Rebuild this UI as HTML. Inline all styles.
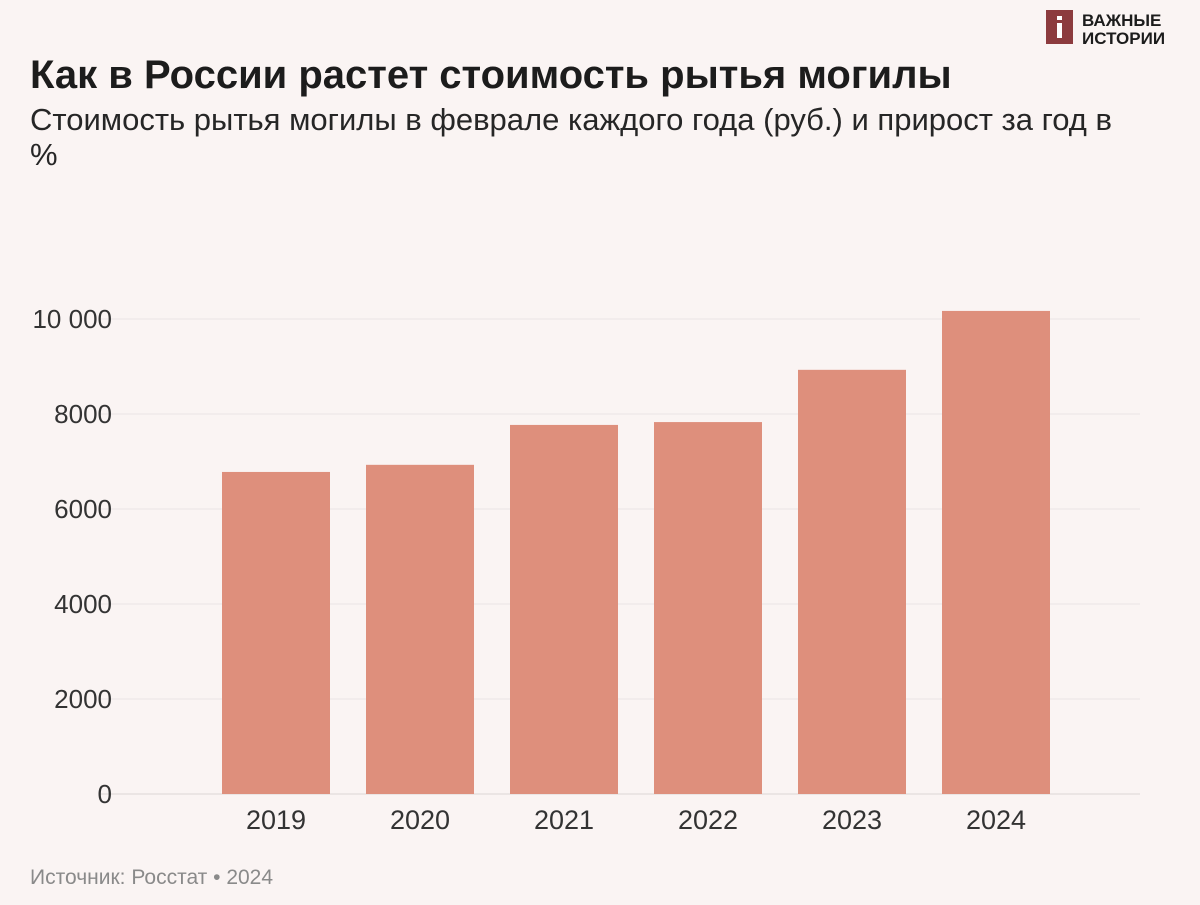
<!DOCTYPE html>
<html><head><meta charset="utf-8">
<style>
body{margin:0;background:#faf4f3;width:1200px;height:905px;overflow:hidden;font-family:"Liberation Sans",sans-serif;position:relative}
.t{position:absolute;left:30px;top:53px;font-size:40px;font-weight:bold;color:#1c1c1c;margin:0}
.s{position:absolute;left:30px;top:102px;width:1160px;font-size:31px;line-height:35px;color:#262626;margin:0}
.src{position:absolute;left:30px;top:866px;font-size:21px;color:#8a8a8a}
.logo{position:absolute;left:1046px;top:8px}
</style></head><body>
<h1 class="t">Как в России растет стоимость рытья могилы</h1>
<p class="s">Стоимость рытья могилы в феврале каждого года (руб.) и прирост за год в<br>%</p>
<div class="logo">
<svg width="154" height="40"><rect x="0" y="2" width="27" height="34" fill="#8c3b3e"/><rect x="11" y="8" width="5" height="4" fill="#fff"/><rect x="11" y="15" width="5" height="15" fill="#fff"/>
<text x="36" y="18" font-family="Liberation Sans" font-weight="bold" font-size="17" fill="#1c1c1c">ВАЖНЫЕ</text>
<text x="36" y="36" font-family="Liberation Sans" font-weight="bold" font-size="17" fill="#1c1c1c">ИСТОРИИ</text></svg></div>
<svg id="c" width="1200" height="905" style="position:absolute;left:0;top:0"></svg>
<div class="src">Источник: Росстат • 2024</div>
<script>
const categories=["2019","2020","2021","2022","2023","2024"];
const values=[6780,6930,7770,7830,8930,10170];
const ticks=[0,2000,4000,6000,8000,10000];
const tickLabels=["0","2000","4000","6000","8000","10 000"];
const svg=document.getElementById('c');const NS="http://www.w3.org/2000/svg";
const y=v=>794-v*0.0475;const x=i=>222+i*144;
ticks.forEach((t,i)=>{
const l=document.createElementNS(NS,'line');


l.setAttribute('x1',100);l.setAttribute('x2',1140);l.setAttribute('y1',y(t));l.setAttribute('y2',y(t));
l.setAttribute('stroke',t===0?'#dcd6d5':'#ebe5e4');l.setAttribute('stroke-width',1);svg.appendChild(l);
const tx=document.createElementNS(NS,'text');


tx.setAttribute('x',112);tx.setAttribute('y',y(t)+9);tx.setAttribute('text-anchor','end');
tx.setAttribute('font-size',26);tx.setAttribute('fill','#333');tx.setAttribute('font-family','Liberation Sans');
tx.textContent=tickLabels[i];svg.appendChild(tx);});
categories.forEach((c,i)=>{
const r=document.createElementNS(NS,'rect');


r.setAttribute('x',x(i));r.setAttribute('width',108);r.setAttribute('y',y(values[i]));r.setAttribute('height',794-y(values[i]));
r.setAttribute('fill','#de8f7c');svg.appendChild(r);
const tx=document.createElementNS(NS,'text');


tx.setAttribute('x',x(i)+54);tx.setAttribute('y',829);tx.setAttribute('text-anchor','middle');
tx.setAttribute('font-size',27);tx.setAttribute('fill','#333');tx.setAttribute('font-family','Liberation Sans');
tx.textContent=c;svg.appendChild(tx);});
</script>
</body></html>
